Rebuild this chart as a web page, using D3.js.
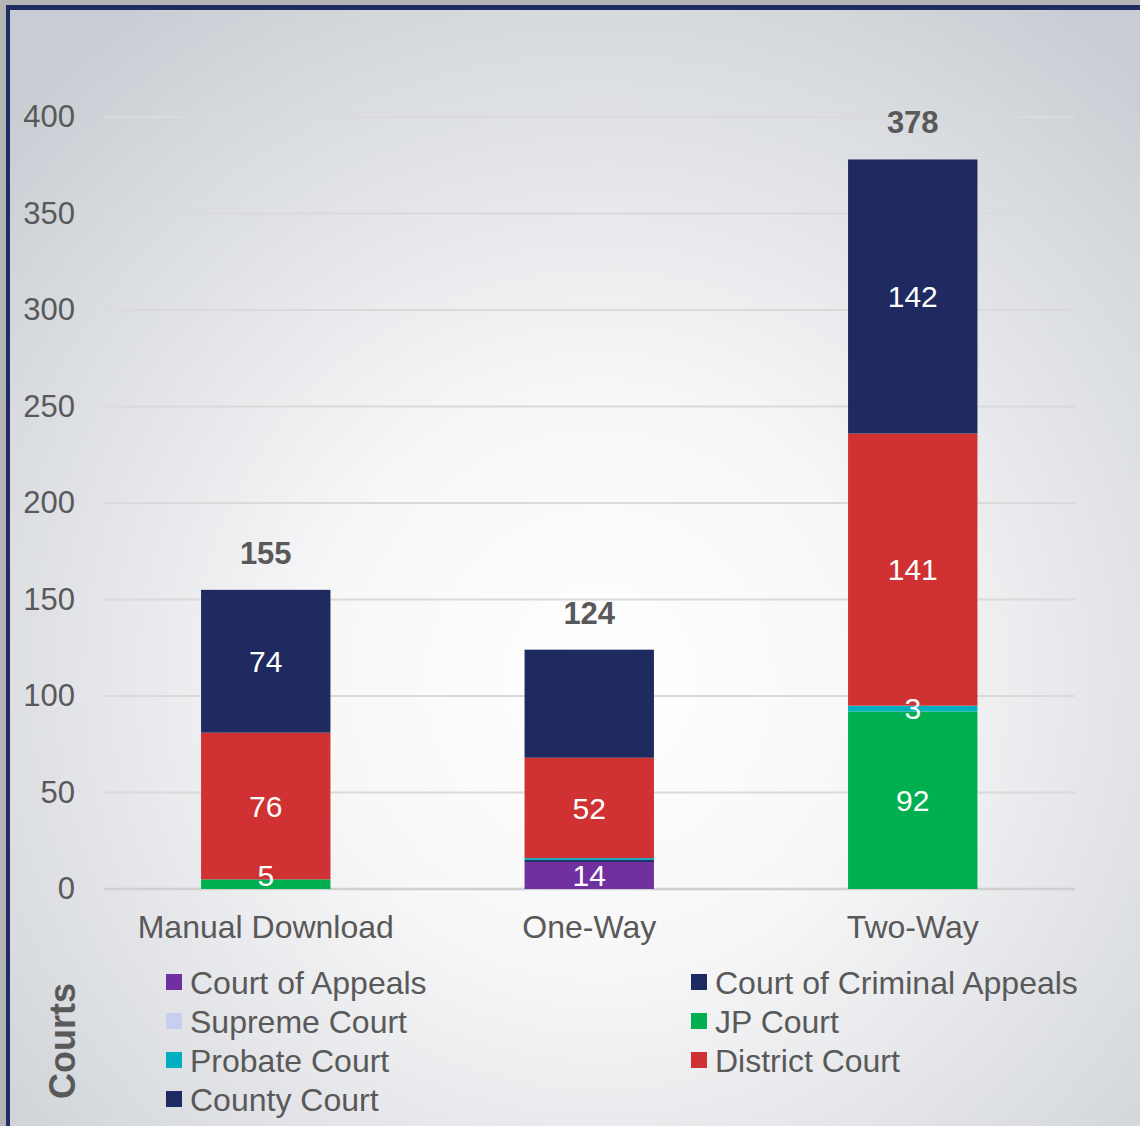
<!DOCTYPE html>
<html>
<head>
<meta charset="utf-8">
<script src="https://cdn.jsdelivr.net/npm/d3@7"></script>
<style>
  body { margin: 0; background: #ffffff; }
  svg { display: block; font-family: "Liberation Sans", Arial, sans-serif; }
</style>
</head>
<body>
<div id="chart"></div>
<script>
// data
const categories = ['Manual Download', 'One-Way', 'Two-Way'];
const seriesNames = ['Court of Appeals', 'Court of Criminal Appeals', 'Supreme Court', 'JP Court', 'Probate Court', 'District Court', 'County Court'];
const courtOfAppeals = [0, 14, 0];
const courtOfCriminalAppeals = [0, 1, 0];
const supremeCourt = [0, 0, 0];
const jpCourt = [5, 0, 92];
const probateCourt = [0, 1, 3];
const districtCourt = [76, 52, 141];
const countyCourt = [74, 56, 142];
const totals = [155, 124, 378];
const yTicks = [0, 50, 100, 150, 200, 250, 300, 350, 400];
// labels that the original chart leaves out
const hiddenLabels = [['County Court', 'One-Way']];

const seriesValues = [courtOfAppeals, courtOfCriminalAppeals, supremeCourt, jpCourt, probateCourt, districtCourt, countyCourt];
const colors = ['#7030a0', '#1f2a60', '#c8cfee', '#00b050', '#00aec2', '#d03233', '#1f2a60'];
// legend order as drawn (two columns)
const legendLeft = ['Court of Appeals', 'Supreme Court', 'Probate Court', 'County Court'];
const legendRight = ['Court of Criminal Appeals', 'JP Court', 'District Court'];

const w = 1140, h = 1126;
const textColor = '#595959';

const svg = d3.select('#chart').append('svg')
  .attr('width', w)
  .attr('height', h);

const defs = svg.append('defs');
const bg = defs.append('radialGradient')
  .attr('id', 'bg')
  .attr('gradientUnits', 'userSpaceOnUse')
  .attr('cx', 600).attr('cy', 680).attr('r', 820);
bg.append('stop').attr('offset', '0').attr('stop-color', '#ffffff');
bg.append('stop').attr('offset', '0.35').attr('stop-color', '#f7f7f8');
bg.append('stop').attr('offset', '1').attr('stop-color', '#c9cdd3');

// outer shadow + frame
svg.append('rect').attr('x', 0).attr('y', 0).attr('width', w).attr('height', h).attr('fill', '#b5b5b5');
svg.append('rect').attr('x', 6).attr('y', 5).attr('width', w).attr('height', h).attr('fill', '#1f2d62');
svg.append('rect').attr('x', 10).attr('y', 10).attr('width', w).attr('height', h).attr('fill', 'url(#bg)');

// scales
const x = d3.scaleBand()
  .domain(categories)
  .range([104, 1074.5])
  .paddingInner(0.6)
  .paddingOuter(0.3);

const y = d3.scaleLinear()
  .domain([0, 400])
  .range([889, 117]);

// gridlines
svg.append('g')
  .selectAll('line')
  .data(yTicks)
  .join('line')
  .attr('x1', 104)
  .attr('x2', 1075)
  .attr('y1', d => y(d))
  .attr('y2', d => y(d))
  .attr('stroke', d => d === 0 ? '#d0d0d0' : '#dadada')
  .attr('stroke-width', d => d === 0 ? 2.5 : 2);

// y axis
const yAxis = d3.axisLeft(y).tickValues(yTicks).tickSize(0).tickPadding(0);
const yg = svg.append('g')
  .attr('transform', 'translate(75,0)')
  .call(yAxis);
yg.select('.domain').remove();
yg.selectAll('text')
  .attr('fill', textColor)
  .style('font-size', '31px');

// x axis
const xAxis = d3.axisBottom(x).tickSize(0).tickPadding(0);
const xg = svg.append('g')
  .attr('transform', 'translate(0,915)')
  .call(xAxis);
xg.select('.domain').remove();
xg.selectAll('text')
  .attr('fill', textColor)
  .attr('dy', '0.71em')
  .style('font-size', '32px');

// stacked bars
const table = categories.map((c, i) => {
  const row = { category: c };
  seriesNames.forEach((s, j) => { row[s] = seriesValues[j][i]; });
  return row;
});
const stack = d3.stack().keys(seriesNames)(table);

const layers = svg.append('g')
  .selectAll('g')
  .data(stack)
  .join('g')
  .attr('fill', (d, i) => colors[i]);

layers.selectAll('rect')
  .data(d => d.map(p => ({ key: d.key, p: p })))
  .join('rect')
  .attr('x', d => x(d.p.data.category))
  .attr('y', d => y(d.p[1]))
  .attr('width', x.bandwidth())
  .attr('height', d => y(d.p[0]) - y(d.p[1]));

// value labels
const isHidden = (s, c) => hiddenLabels.some(hl => hl[0] === s && hl[1] === c);
const labels = [];
stack.forEach(layer => {
  layer.forEach(p => {
    const v = p[1] - p[0];
    if (v >= 3 && !isHidden(layer.key, p.data.category)) {
      labels.push({ cat: p.data.category, v: v, mid: (p[0] + p[1]) / 2 });
    }
  });
});
svg.append('g')
  .selectAll('text')
  .data(labels)
  .join('text')
  .attr('x', d => x(d.cat) + x.bandwidth() / 2)
  .attr('y', d => Math.min(y(d.mid), y(0) - 14))
  .attr('dy', '0.36em')
  .attr('text-anchor', 'middle')
  .attr('fill', '#ffffff')
  .style('font-size', '30px')
  .text(d => d.v);

// totals
svg.append('g')
  .selectAll('text')
  .data(totals)
  .join('text')
  .attr('x', (d, i) => x(categories[i]) + x.bandwidth() / 2)
  .attr('y', d => y(d) - 26)
  .attr('text-anchor', 'middle')
  .attr('fill', textColor)
  .style('font-size', '31px')
  .style('font-weight', 'bold')
  .text(d => d);

// legend title
svg.append('text')
  .attr('transform', 'translate(75,1041) rotate(-90)')
  .attr('text-anchor', 'middle')
  .attr('fill', textColor)
  .style('font-size', '36px')
  .style('font-weight', 'bold')
  .text('Courts');

// legend
const drawLegend = (names, lx) => {
  const g = svg.append('g');
  const item = g.selectAll('g')
    .data(names)
    .join('g')
    .attr('transform', (d, i) => 'translate(' + lx + ',' + (982 + i * 39) + ')');
  item.append('rect')
    .attr('x', 0).attr('y', -8)
    .attr('width', 16).attr('height', 16)
    .attr('fill', d => colors[seriesNames.indexOf(d)]);
  item.append('text')
    .attr('x', 24)
    .attr('dy', '0.36em')
    .attr('fill', textColor)
    .style('font-size', '32px')
    .text(d => d);
};
drawLegend(legendLeft, 166);
drawLegend(legendRight, 691);
</script>
</body>
</html>
